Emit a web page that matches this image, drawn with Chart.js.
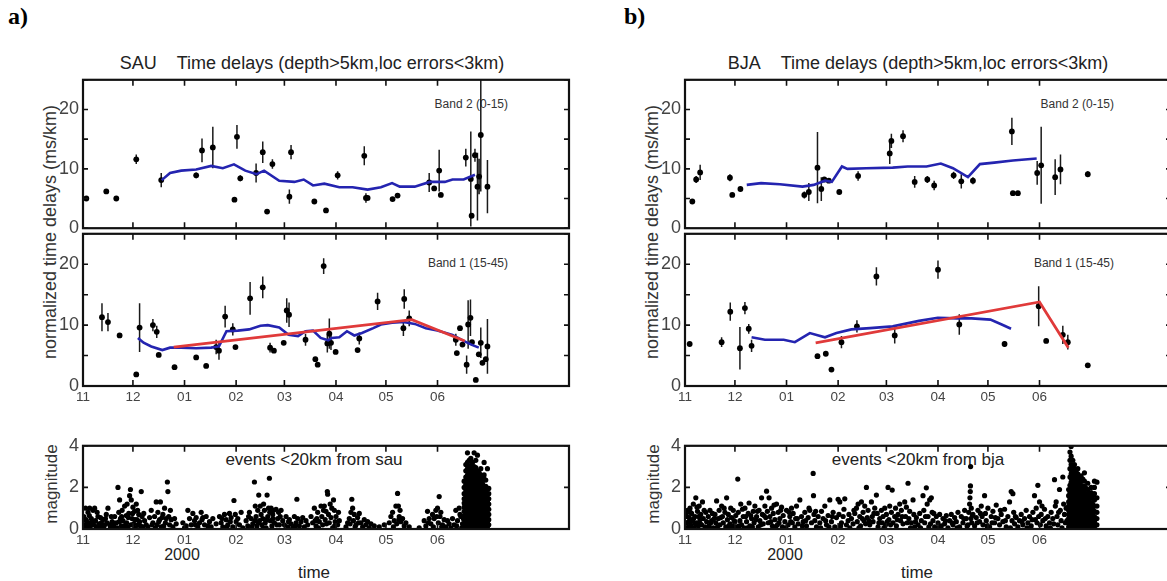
<!DOCTYPE html>
<html lang="en">
<head>
<meta charset="UTF-8">
<title>Time delays SAU / BJA</title>
<script src="https://cdn.jsdelivr.net/npm/chart.js@4.4.1/dist/chart.umd.min.js"></script>
<style>
  body { margin:0; width:1167px; height:581px; overflow:hidden; background:#fff; position:relative;
         font-family:'Liberation Sans', Arial, sans-serif; color:#222; }
  canvas { position:absolute; }
  .txt { position:absolute; white-space:nowrap; transform:translate(-50%,-50%); }
  .rt { transform:translate(-100%,-50%); }
  .vlab { transform:translate(-50%,-50%) rotate(-90deg); }
  .panel { position:absolute; font-family:'Liberation Serif', serif; font-weight:bold; font-size:24px; color:#000; }
</style>
</head>
<body>
<div class="panel" style="left:8px;top:3px">a)</div>
<div class="panel" style="left:624px;top:3px">b)</div>

<div class="txt" style="left:312px;top:63px;font-size:18px">SAU&nbsp;&nbsp;&nbsp;&nbsp;Time delays (depth&gt;5km,loc errors&lt;3km)</div>
<div class="txt" style="left:918px;top:63px;font-size:18px">BJA&nbsp;&nbsp;&nbsp;&nbsp;Time delays (depth&gt;5km,loc errors&lt;3km)</div>

<div class="txt vlab" style="left:50px;top:232px;font-size:18px;color:#333">normalized time delays (ms/km)</div>
<div class="txt vlab" style="left:652px;top:232px;font-size:18px;color:#333">normalized time delays (ms/km)</div>
<div class="txt vlab" style="left:52px;top:484px;font-size:17px;color:#333">magnitude</div>
<div class="txt vlab" style="left:654px;top:484px;font-size:17px;color:#333">magnitude</div>

<div class="txt rt" style="left:508px;top:104px;font-size:12px;color:#333">Band 2 (0-15)</div>
<div class="txt rt" style="left:508px;top:263px;font-size:12px;color:#333">Band 1 (15-45)</div>
<div class="txt rt" style="left:1114px;top:104px;font-size:12px;color:#333">Band 2 (0-15)</div>
<div class="txt rt" style="left:1114px;top:263px;font-size:12px;color:#333">Band 1 (15-45)</div>

<div class="txt" style="left:314px;top:460px;font-size:17px">events &lt;20km from sau</div>
<div class="txt" style="left:918px;top:460px;font-size:17px">events &lt;20km from bja</div>

<div class="txt" style="left:182px;top:555px;font-size:16px">2000</div>
<div class="txt" style="left:785px;top:555px;font-size:16px">2000</div>
<div class="txt" style="left:314px;top:573px;font-size:17px">time</div>
<div class="txt" style="left:917px;top:573px;font-size:17px">time</div>

<script>
// x axis: days since 1 Nov 1999
const monthDays = [0, 30, 61, 92, 121, 152, 182, 213];
const monthLabels = ['11', '12', '01', '02', '03', '04', '05', '06'];
const xMax = 292;

// ---- SAU, band 2 (0-15)
const sauB2Days = [2,14,20,32,47,68,71.5,78,91,92.5,94.5,104,108,110.6,113.8,124,125,139,146,153,169,170,171,186,189,208,211,214,215,230,233,233.5,235.5,237,238,239,243];
const sauB2Vals = [5.0,6.2,5.0,11.6,8.1,8.9,13.1,13.6,4.8,15.4,8.4,9.3,12.8,2.8,10.8,5.3,12.8,4.5,3.0,8.9,12.2,5.1,5.1,4.9,5.5,7.7,6.7,9.7,5.6,11.9,8.3,2.1,12.3,7.0,8.7,15.7,7.0];
const sauB2Errs = [0,0,0,0.8,1.2,0.5,2,3.5,0,2,0.5,1.6,1.8,0,0.8,1.2,1.2,0,0,0.7,1.6,0.8,0,0,0,1.6,0,3.5,0,1.5,8,0,1.1,5.7,3,9.5,4.5];
const sauB2AvgDays = [47.3,52.3,59,68,77,84,90.7,97.5,104.3,108.8,117.9,127,132.6,138.2,145,154,162,171,179,185.7,190.3,199.3,208.4,217.4,222,228.7,235.5];
const sauB2AvgVals = [8.1,9.3,9.7,9.9,10.5,10.1,10.75,9.7,9.1,9.7,8.0,7.8,8.2,7.2,7.5,6.9,6.9,6.5,6.9,7.6,7.0,7.0,7.8,7.8,8.2,8.2,9.0];

// ---- SAU, band 1 (15-45)
const sauB1Days = [11.4,15,22,32,34,42,44.3,45.5,55,68,74,80,81.7,85.4,90,91.6,100.4,108,112.4,114.7,120.6,122.4,123.8,133.7,139.6,141,144.6,146.8,148,149,151.8,165,166,177,192.5,193,196,224,224.6,226.5,228,230.5,231.4,232.8,233.7,236,237.8,239,240,242,243];
const sauB1Vals = [11.3,10.5,8.3,1.9,9.6,10.0,8.9,5.1,3.1,4.7,3.3,6.4,5.8,11.4,9.3,6.4,14.4,16.2,6.3,5.8,7.1,12.4,11.7,7.6,4.4,3.5,19.7,7.0,8.6,7.1,5.6,5.9,7.8,13.9,9.5,14.3,11.1,7.6,5.4,9.5,6.8,3.5,10.1,11.2,7.2,1.0,5.2,7.1,3.8,4.4,6.5];
const sauB1Errs = [2.3,1.5,0,0,4,1,1,0,0,0,0,1.2,1.5,1.8,1,0,2.7,1.8,0.8,0,0,2,2,1,0,0,1.3,1.5,2.5,1.2,0,0,1,1.4,1.3,1.6,1.3,1,0,0,0,1.5,4,3,0,0,0,2.5,0,0,4.5];
const sauB1AvgDays = [33,36.4,41,47.7,52.3,59,68,77,81.7,86.2,93,99.8,106.6,111,117.9,123.5,129.2,133.7,138.2,142.8,147.3,149.5,154,158.6,163,167.6,174.4,179,185.7,192.5,199.3,206,212.9,222,228.7,233.3,237.8];
const sauB1AvgVals = [7.9,7.1,6.5,5.9,6.3,6.3,6.2,6.3,6.5,9.0,9.1,9.3,9.9,10.0,9.6,8.4,8.2,9.0,9.1,7.9,7.5,7.9,8.0,9.0,8.3,8.7,9.5,10.1,10.4,10.5,10.2,9.5,9.1,8.4,7.4,6.8,6.3];
const sauTrendDays = [54.5, 197.6, 229.4];
const sauTrendVals = [6.4, 10.9, 7.4];

// ---- BJA, band 2 (0-15)
const bjaB2Days = [4.4,6.7,9.1,27,28.4,33.3,71.7,74.4,79.6,81.9,83.7,86.4,92.7,104,123,124,131,138,145.6,149.7,161.4,166,173,196.4,197,200,211.6,214,222.4,225.6,242];
const bjaB2Vals = [4.5,8.2,9.4,8.5,5.6,6.6,5.6,6.1,10.2,6.6,8.2,8.0,6.1,8.8,12.6,14.7,15.5,7.8,8.2,7.2,8.9,7.9,8.0,16.3,5.9,5.9,9.3,10.6,8.6,9.9,9.1];
const bjaB2Errs = [0,0.6,1.3,0.6,0,0,0.6,1.5,6,2,0,0,0,0.8,1.8,1.2,1,1,0.6,0.8,0.6,1.2,0.6,2.3,0,0,2,6.5,3,2.5,0.5];
const bjaB2AvgDays = [37.1,45.7,57,70.6,77.3,84.1,88.2,94.3,97.6,108.9,124.8,133.8,145.1,153.7,161,170,177.2,185.8,197,211.3];
const bjaB2AvgVals = [7.3,7.6,7.4,7.0,7.3,8.0,7.8,10.4,10.0,10.1,10.2,10.4,10.4,10.9,10.1,8.6,10.8,11.05,11.4,11.75];

// ---- BJA, band 1 (15-45)
const bjaB1Days = [2.8,22,27.2,33,36,38.3,40,79.6,84.6,88,94,103.3,115,126,152,164.8,192,212.5,217,227,230,242];
const bjaB1Vals = [6.9,7.2,12.2,6.2,12.8,9.4,6.6,4.9,5.3,2.7,7.2,9.8,18.0,8.3,19.1,10.1,6.9,13.1,7.4,8.4,7.2,3.4];
const bjaB1Errs = [0,0.8,1.5,3.5,1,0.8,1,0,0,0,1,1,1.5,1.3,1.5,1.7,0.5,3.3,0,1.5,1.2,0];
const bjaB1AvgDays = [40,48,59.3,66,75,84.1,91,100,111.2,124.8,140.6,151.9,163.2,172.2,183.5,190.3,195.9];
const bjaB1AvgVals = [8.0,7.6,7.6,7.2,8.7,8.0,8.7,9.3,9.5,9.8,10.7,11.2,11.1,11.1,10.9,10.1,9.4];
const bjaTrendDays = [78.5, 213, 230.3];
const bjaTrendVals = [7.1, 13.8, 6.3];

// ---- events <20km, [day, magnitude]
const sauEvents = [
[0.5,0.6],[1,0.2],[1.5,1.0],[2,0.4],[2.5,0.05],[3,0.8],[3.5,0.3],[4,1.0],[4.5,0.15],[5,0.5],[6,0.9],[6.5,0.2],[7,1.0],[7.5,0.4],[8,0.1],[9,0.6],[9.5,0.25],[10,0.05],[11,0.3],[12,0.45],[12.5,0.1],[13,0.2],[14,0.7],[14.5,0.3],[15,1.0],[16,0.2],[16.5,0.05],[17.5,0.35],[18.5,0.15],[19,0.6],
[20,0.3],[21,2.0],[21.5,0.8],[22,1.4],[22.5,0.5],[23,0.15],[23.5,0.9],[24,0.4],[25,1.1],[25.5,0.2],[26,0.65],[26.5,1.2],[27,0.1],[27.5,0.75],[28,1.6],[28.5,1.9],[29,1.4],[29.5,0.5],[30,1.05],[30.5,0.25],[31,0.85],[31.5,0.05],[32,1.2],[32.5,0.45],[33,0.2],[33.5,0.7],[34,0.35],[35,1.8],[35.5,0.6],[36,0.1],[37,0.4],[38,0.2],
[40,0.55],[41,0.9],[42,0.3],[43,0.6],[44,1.3],[44.5,0.2],[45,0.8],[46,0.45],[46.5,1.3],[47,0.1],[48,0.7],[49,1.0],[49.5,0.3],[50,0.5],[50.7,2.26],[51,1.8],[51.5,0.6],[52,0.2],[53,0.45],[54,0.1],[55,0.5],[56,0.25],
[60,0.3],[62,0.15],[63,0.9],[64,0.5],[65,0.2],[66,0.75],[67,0.4],[68,0.55],[69,0.1],[70,0.3],[71,0.8],[72,0.55],[73,0.2],[74,0.6],[76,0.35],[77,0.1],[78,0.5],[80,0.25],
[82,0.6],[83,0.3],[84,0.1],[85,0.7],[86,0.45],[87,0.2],[88,0.75],[89,0.55],[90,0.1],[90.7,1.37],[91.5,0.7],[92,0.35],[93,0.5],[94,0.2],[95,0.8],[96,0.05],
[98,0.4],[99,0.15],[100,0.8],[101,0.5],[102,0.25],[103,2.26],[103.5,1.1],[104,0.6],[104.5,0.15],[105,0.9],[105.6,1.63],[106,0.4],[106.5,1.1],[107,0.7],[107.5,0.2],[108,0.5],[108.5,1.2],[109,0.9],[109.5,0.3],[110,0.05],[110.6,1.63],[111,0.6],[111.5,1.0],[112,2.44],[112.5,0.4],[113,1.0],[113.5,0.15],[114,0.7],[114.5,0.9],[115,0.3],[116,0.95],[117,0.5],[117.5,0.8],[118,0.2],[119,0.9],[120,0.4],
[121,0.2],[122,0.6],[123,0.1],[124,0.45],[125,0.25],[126,0.05],[127,0.6],[128,0.3],[128.5,1.43],[129,0.5],[130,0.15],[131,0.35],[132,0.55],[133,0.1],[134,0.4],[135,0.2],
[137,0.6],[138,0.3],[139,1.0],[140,0.15],[140.5,0.5],[141,0.8],[142,0.35],[143,1.1],[143.5,0.6],[144,0.2],[145,1.1],[145.5,0.45],[146,0.85],[146.8,1.8],[147,1.67],[147.5,0.7],[148,0.3],[148.5,1.2],[149,0.55],[150,0.05],[150.5,1.4],[151,0.9],[151.5,0.35],[152,0.6],[153,0.2],[154,0.4],
[158,0.1],[159,0.3],[160,0.5],[161,0.8],[161.5,1.43],[162,1.0],[162.5,0.4],[163,0.7],[164,0.2],[165,0.55],[166,0.75],[167,0.3],[168,0.1],[169,0.45],[170,0.2],[171,0.35],[172,0.05],[173,0.25],[175,0.15],
[178,0.1],[181,0.2],[184,0.3],[185,0.6],[186,0.8],[187,0.4],[188,1.1],[188.5,0.25],[189,1.71],[189.5,1.1],[190,0.6],[191,0.35],[192,0.5],[193,0.15],[194,0.3],[196,0.1],
[202,0.05],[205,0.4],[206,0.15],[207,0.85],[208,0.5],[209,0.25],[210,0.7],[211,0.5],[212,0.9],[213,1.0],[213.5,0.3],[214,1.56],[214.5,0.6],[215,0.8],[216,0.2],[217,0.45],[218,0.1],[220,0.25],[221,0.05],[222,0.5],[223,0.2],[224,0.9],[225,0.4],[226,1.0],[227,0.6],[228,0.25],
[0.8,0.1],[1.8,0.45],[2.8,0.25],[3.8,0.65],[5.5,0.35],[8.5,0.8],[10.5,0.55],[11.5,0.1],[13.5,0.5],[17,0.6],[18,0.3],[20.5,0.05],[21.8,0.35],[23.2,0.6],[24.5,0.05],[26.2,0.3],[27.2,0.55],[28.8,0.2],[29.8,0.75],[31.2,0.45],[32.8,0.9],[34.5,0.15],[36.5,0.75],[39,0.1],[41.5,0.2],[43.5,0.05],[45.5,0.35],[47.5,0.55],[48.5,0.15],[52.5,0.9],[61,0.05],[67.5,0.2],[71.5,0.45],[75,0.15],[83.5,0.5],[86.5,0.1],[88.5,0.35],[99.5,0.6],[101.5,0.1],[103.2,0.4],[105.3,0.3],[108.2,0.05],[110.3,0.45],[112.2,0.8],[114.2,0.5],[116.5,0.2],[118.5,0.6],[123.5,0.35],[127.5,0.15],[139.5,0.4],[141.5,0.05],[144.5,0.9],[146.3,0.25],[149.5,1.0],[151.2,0.15],[153.5,0.8],[160.5,0.25],[163.5,0.1],[165.5,0.3],[186.5,0.1],[189.8,0.45],[190.5,0.9],[207.5,0.3],[210.5,0.1],[212.5,0.6],[215.5,0.1],[219,0.4],[224.5,0.15],[226.5,0.7],[227.5,0.05],[228.5,0.5]
];
// the swarm after the June event, read column by column
const sauSwarm = [
[229,[0.05,0.25,0.45,0.65,0.85,1.05,1.25,1.45,1.7,2.0,2.3]],
[230,[0.15,0.35,0.55,0.75,0.95,1.15,1.35,1.55,1.85,2.15,2.5,2.8,3.1]],
[231,[0.1,0.3,0.5,0.7,0.9,1.1,1.3,1.5,1.7,1.9,2.1,2.35,2.6,2.9,3.2,3.66]],
[232,[0.15,0.35,0.55,0.75,0.95,1.15,1.35,1.55,1.75,1.95,2.2,2.45,2.7,3.0,3.3]],
[233,[0.05,0.25,0.45,0.65,0.85,1.05,1.25,1.45,1.65,1.85,2.05,2.3,2.55,2.8,3.05,3.4]],
[234,[0.15,0.35,0.55,0.75,0.95,1.15,1.35,1.55,1.75,1.95,2.2,2.4,2.65,2.9,3.2]],
[235,[0.1,0.3,0.5,0.7,0.9,1.1,1.3,1.5,1.7,1.9,2.1,2.3,2.5,2.75,3.0,3.66]],
[236,[0.15,0.35,0.55,0.75,0.95,1.15,1.35,1.55,1.75,1.95,2.15,2.4,2.65,2.95,3.3]],
[237,[0.05,0.25,0.45,0.65,0.85,1.05,1.25,1.45,1.65,1.85,2.05,2.25,2.5,2.8,3.55]],
[238,[0.15,0.35,0.55,0.75,0.95,1.15,1.35,1.55,1.75,1.95,2.15,2.4,2.7]],
[239,[0.1,0.3,0.5,0.7,0.9,1.1,1.3,1.5,1.7,1.9,2.1,2.3,2.6,2.9]],
[240,[0.15,0.35,0.55,0.75,0.95,1.15,1.35,1.55,1.75,1.95,2.2,2.45]],
[241,[0.05,0.25,0.45,0.65,0.85,1.05,1.25,1.45,1.65,1.85,2.05,2.4,2.6,3.2]],
[242,[0.15,0.35,0.55,0.75,0.95,1.15,1.35,1.55,1.75,2.05,2.35]],
[243,[0.1,0.3,0.5,0.7,0.9,1.1,1.3,1.5,1.7,1.95,2.9]],
[243.8,[0.2,0.45,0.7,0.95,1.2,1.45,1.7,1.95]]
];

const bjaEvents = [
[0.5,0.7],[1,0.3],[1.5,0.9],[2,0.1],[2.5,0.55],[3,1.0],[3.5,0.2],[4,0.75],[4.5,0.4],[5,1.2],[5.5,0.05],[6,0.6],[6.5,1.5],[7,0.3],[7.5,0.85],[8,0.15],[8.5,1.1],[9,0.45],[9.5,0.7],[10,0.2],[10.5,1.3],[11,0.5],[12,0.1],[12.5,0.8],[13,0.35],[14,0.6],[14.5,0.15],[15,0.9],[16,0.4],[17,0.05],[18,0.7],[18.5,0.3],[19,1.35],[20,0.5],[20.5,0.9],[21,0.2],[22,1.1],[22.5,0.6],[23,0.3],[24,0.8],[24.5,0.1],[25,1.5],[25.5,0.45],[26,0.7],[27,0.25],[27.5,1.0],[28,0.55],[28.5,0.15],[29,0.9],[30,0.35],[30.5,0.65],[31,0.1],[31.7,2.4],[32,0.8],[33,0.4],[33.5,1.2],[34,0.2],[35,0.6],[35.5,0.05],[36,1.0],[37,0.35],[38,0.75],[38.5,1.25],[39,0.15],[40,0.5],[41,0.85],[41.5,0.3],[42,1.1],[43,0.6],[44,0.1],[44.5,0.9],[45,0.4],[46,1.5],[46.5,0.7],[47,0.25],[48,1.1],[48.5,0.55],[49,1.82],[49.5,0.85],[50,0.3],[50.5,1.5],[51,0.6],[52,1.0],[52.5,0.15],[53,0.75],[54,0.45],[55,1.2],[55.5,0.2],[56,0.8],[57,0.5],[58,1.05],[58.5,0.1],[59,0.65],[60,0.35],[61,0.9],[62,0.2],[63,0.6],[64,1.0],[64.5,0.3],[65,0.75],[66,0.1],[67,1.1],[67.5,0.5],[68,0.25],[69,1.4],[70,0.6],[71,0.35],[72,0.8],[73,0.15],[74,0.55],[75,0.9],[76,0.3],[77,2.67],[77.2,1.6],[77.5,0.7],[78,0.4],[79,0.1],[80,0.6],[81,0.3],[82,0.85],[83,0.5],[84,1.1],[85,0.2],[86,0.65],[87,1.4],[88,0.35],[89,0.8],[90,0.1],[91,0.55],[92,1.43],[92.5,0.7],[93,1.3],[94,0.3],[95,0.6],[96,1.45],[97,0.2],[98,0.4],[99,0.05],
[100,0.5],[101,0.25],[102,0.75],[103,1.0],[103.5,0.35],[104,1.2],[105,0.6],[105.5,0.15],[106,1.3],[107,0.8],[107.5,0.4],[108,1.1],[109,2.0],[109.5,0.55],[110,0.9],[111,0.2],[112,1.3],[112.5,0.6],[113,0.35],[114,1.0],[115,1.63],[115.5,0.75],[116,0.1],[117,0.5],[118,0.9],[118.5,0.3],[119,0.6],[120,1.0],[120.5,0.2],[121,0.7],[122,2.0],[122.5,0.45],[123,1.1],[124,0.8],[124.5,1.87],[125,0.3],[126,0.6],[126.5,1.0],[127,0.15],[128,0.7],[129,1.2],[129.5,0.4],[130,0.9],[131,0.25],[132,1.3],[132.5,0.6],[133,1.05],[134,2.2],[134.5,0.5],[135,0.85],[136,0.3],[137,1.4],[137.5,0.7],[138,0.1],[139,0.55],[140,0.2],[141,0.75],[142,0.4],[143,1.6],[143.5,0.9],[144,0.3],[145,1.98],[145.5,1.2],[146,0.6],[147,1.4],[147.5,0.25],[148,1.5],[148.5,0.8],[149,0.4],[150,0.1],[151,0.6],[152,0.3],[153,0.7],[154,0.15],[155,0.5],[156,0.25],[157,0.65],[158,0.05],[159,0.4],[160,0.7],[161,0.2],[162,0.55],[163,0.35],[164,0.8],[165,0.1],[166,0.6],[167,0.3],[168,0.9],[169,0.5],[170,0.2],[170.5,0.8],[171,1.2],[171.2,1.5],[171.4,1.8],[171.5,2.07],[171.6,3.0],[171.8,0.5],[172,1.0],[172.3,0.3],[173,0.7],[174,0.15],[175,0.55],[176,0.9],[177,0.35],[178,1.1],[178.5,0.6],[179,0.2],[180,1.6],[180.5,0.75],[181,0.4],[182,1.0],[183,0.1],[184,0.6],[185,0.85],[186,0.3],[187,1.15],[188,0.5],[189,0.2],[190,0.7],[191,0.35],[192,0.95],[193,0.1],[194,0.6],[195,1.3],[196,1.8],[196.5,0.4],[197,1.7],[197.5,0.8],[198,0.25],[199,0.55],[200,0.1],[201,0.4],[202,0.7],[203,0.2],[204,0.5],[205,0.9],[206,0.3],[207,0.6],[208,0.15],[209,0.8],[210,1.6],[210.5,0.45],[211,1.0],[212,2.1],[212.5,0.6],[213,1.3],[213.5,0.2],[214,0.7],[215,0.4],[216,0.95],[217,0.15],[218,0.6],[219,0.3],[220,0.8],[221,0.5],[222,2.37],[222.5,1.1],[223,1.3],[223.5,0.6],[224,0.2],[225,1.9],[225.5,0.9],[226,0.4],[227,2.5],[227.5,1.2],[228,0.7],[228.5,0.3],[229,1.0],
[1.2,0.6],[2.2,0.35],[3.2,0.8],[4.2,0.05],[5.2,0.5],[6.2,0.25],[7.2,1.05],[8.2,0.6],[9.2,0.25],[11.5,0.9],[13.5,0.05],[15.5,0.3],[16.5,0.75],[17.5,0.5],[19.5,0.1],[21.5,0.55],[23.5,1.0],[26.5,0.15],[29.5,0.4],[32.5,0.15],[34.5,0.95],[36.5,0.6],[37.5,0.05],[39.5,0.65],[40.5,0.1],[42.5,0.45],[43.5,0.85],[45.5,0.2],[47.5,0.65],[51.5,0.35],[53.5,1.15],[54.5,0.1],[56.5,0.3],[57.5,0.9],[60.5,0.05],[62.5,0.8],[63.5,0.35],[66.5,0.5],[70.5,0.15],[72.5,0.4],[74.5,1.0],[78.5,0.85],[81.5,0.05],[84.5,0.4],[86.5,0.1],[88.5,0.6],[93.5,0.15],[95.5,0.95],[98.5,0.7],[101.5,0.9],[104.5,0.05],[106.5,0.5],[108.5,0.25],[110.5,0.4],[113.5,0.75],[116.5,0.3],[119.5,0.05],[121.5,0.35],[123.5,0.2],[127.5,0.45],[130.5,0.6],[133.5,0.3],[135.5,0.05],[138.5,0.35],[141.5,0.05],[144.5,0.6],[146.5,0.1],[149.5,0.75],[152.5,0.05],[156.5,0.4],[160.5,0.3],[163.5,0.05],[167.5,0.5],[169.5,0.15],[172.7,0.65],[175.5,0.3],[177.5,0.75],[181.5,0.15],[184.5,0.3],[186.5,0.55],[189.5,0.9],[192.5,0.4],[195.5,0.05],[198.5,0.6],[202.5,0.35],[205.5,0.05],[208.5,0.45],[211.5,0.3],[214.5,1.1],[216.5,0.5],[219.5,0.05],[221.5,0.25],[224.5,0.8],[226.5,0.05],[229.5,0.4]
];
const bjaSwarm = [
[230.5,[0.1,0.3,0.5,0.7,0.9,1.1,1.3,1.6,1.9]],
[231.3,[0.2,0.4,0.6,0.8,1.0,1.2,1.45,1.75,2.1,2.5,2.9,3.3,3.7]],
[232,[0.05,0.25,0.45,0.65,0.85,1.05,1.25,1.45,1.65,1.85,2.05,2.25,2.45,2.65,2.85,3.1,3.5,3.97]],
[233,[0.15,0.35,0.55,0.75,0.95,1.15,1.35,1.55,1.75,1.95,2.15,2.35,2.55,2.75,3.0,3.3]],
[234,[0.1,0.3,0.5,0.7,0.9,1.1,1.3,1.5,1.7,1.9,2.1,2.3,2.5,2.7,2.9,3.1]],
[235,[0.15,0.35,0.55,0.75,0.95,1.15,1.35,1.55,1.75,1.95,2.15,2.35,2.6,2.8]],
[236,[0.05,0.25,0.45,0.65,0.85,1.05,1.25,1.45,1.65,1.85,2.05,2.25,2.45,2.65,2.9]],
[237,[0.15,0.35,0.55,0.75,0.95,1.15,1.35,1.55,1.75,1.95,2.2,2.45]],
[238,[0.1,0.3,0.5,0.7,0.9,1.1,1.3,1.5,1.7,1.9,2.1,2.3,2.55]],
[239,[0.15,0.35,0.55,0.75,0.95,1.15,1.35,1.55,1.75,2.0,2.4]],
[240,[0.05,0.25,0.45,0.65,0.85,1.05,1.25,1.45,1.65,1.85,2.05,2.3,2.7]],
[241,[0.15,0.35,0.55,0.75,0.95,1.15,1.4,1.65,1.95]],
[242,[0.1,0.3,0.5,0.7,0.9,1.1,1.3,1.5,1.7,1.9,2.2]],
[243,[0.2,0.45,0.7,0.95,1.15,1.4,1.65]],
[244,[0.05,0.3,0.55,0.8,1.0,1.25,1.5,1.75,2.0]],
[245,[0.2,0.45,0.7,0.95,1.2,1.6]],
[246,[0.1,0.35,0.6,0.85,1.1,1.4,1.7,2.0,2.3]],
[247.5,[0.2,0.5,0.8,1.1,1.5,2.25]]
];

Chart.defaults.font.family = "'Liberation Sans', Arial, sans-serif";
Chart.defaults.color = '#333';

const BLUE = '#2424b0';
const RED = '#e03a3a';

// matlab style box with inward ticks on all four sides
const frame = {
    id: 'frame',
    afterDraw(chart) {
        const { ctx, chartArea: a, scales: { x, y } } = chart;
        ctx.save();
        ctx.strokeStyle = '#111';
        ctx.lineWidth = 1.6;
        ctx.beginPath();
        y.ticks.forEach(t => {
            const py = y.getPixelForValue(t.value);
            ctx.moveTo(a.left, py); ctx.lineTo(a.left + 5, py);
            ctx.moveTo(a.right, py); ctx.lineTo(a.right - 5, py);
        });
        x.ticks.forEach(t => {
            const px = x.getPixelForValue(t.value);
            ctx.moveTo(px, a.top); ctx.lineTo(px, a.top + 6);
            ctx.moveTo(px, a.bottom); ctx.lineTo(px, a.bottom - 6);
        });
        ctx.stroke();
        ctx.lineWidth = 2.2;
        ctx.strokeRect(a.left, a.top, a.width, a.height);
        ctx.restore();
    }
};

function pts(days, vals) {
    return days.map((d, i) => ({ x: d, y: vals[i] }));
}

function errBars(days, vals, errs) {
    const out = [];
    days.forEach((d, i) => {
        if (errs[i] > 0) {
            out.push({ x: d, y: vals[i] - errs[i] }, { x: d, y: vals[i] + errs[i] }, { x: d, y: null });
        }
    });
    return out;
}

function eventPts(list, swarm) {
    const out = list.map(e => ({ x: e[0], y: e[1] }));
    swarm.forEach(col => col[1].forEach(m => out.push({ x: col[0], y: m })));
    return out;
}

function delaySets(days, vals, errs, avgDays, avgVals, trendDays, trendVals) {
    const sets = [];
    if (trendDays) {
        sets.push({ data: pts(trendDays, trendVals), showLine: true, borderColor: RED, borderWidth: 2.8, pointRadius: 0 });
    }
    sets.push({ data: pts(avgDays, avgVals), showLine: true, borderColor: BLUE, borderWidth: 2.6, pointRadius: 0 });
    sets.push({ data: pts(days, vals), pointRadius: 2.9, pointBackgroundColor: '#000', pointBorderWidth: 0 });
    sets.push({ data: errBars(days, vals, errs), showLine: true, spanGaps: false, borderColor: '#1a1a1a', borderWidth: 1.5, pointRadius: 0 });
    return sets;
}

const AXW = 45, PADT = 12, PADR = 10;

function makePlot(box, labeled, yMax, yStep, labelEvery, labelMax, datasets) {
    const cv = document.createElement('canvas');
    const w = box.w + AXW + PADR;
    const h = box.h + PADT + (labeled ? 22 : 12);
    cv.width = w; cv.height = h;
    cv.style.left = (box.l - AXW) + 'px';
    cv.style.top = (box.t - PADT) + 'px';
    document.body.appendChild(cv);
    new Chart(cv, {
        type: 'scatter',
        data: { datasets },
        plugins: [frame],
        options: {
            responsive: false,
            animation: false,
            layout: { padding: { top: PADT, right: PADR, bottom: labeled ? 0 : 12, left: 0 } },
            plugins: { legend: { display: false }, tooltip: { enabled: false } },
            scales: {
                x: {
                    type: 'linear', min: 0, max: xMax,
                    grid: { display: false, drawTicks: false },
                    border: { display: false },
                    afterBuildTicks: s => { s.ticks = monthDays.map(v => ({ value: v })); },
                    afterFit: s => { s.height = labeled ? 22 : 0; },
                    ticks: {
                        display: labeled, autoSkip: false, maxRotation: 0, padding: 3,
                        color: '#444', font: { size: 13.5 },
                        callback: v => monthLabels[monthDays.indexOf(v)]
                    }
                },
                y: {
                    min: 0, max: yMax,
                    grid: { display: false, drawTicks: false },
                    border: { display: false },
                    afterFit: s => { s.width = AXW; },
                    ticks: {
                        stepSize: yStep, padding: 4, color: '#444', font: { size: 18 },
                        callback: v => (v % labelEvery === 0 && v <= labelMax) ? v : ''
                    }
                }
            }
        }
    });
}

const W = 486;
const boxes = {
    top: { t: 77, h: 154 },
    mid: { t: 231, h: 155 },
    bot: { t: 443, h: 86 }
};
const panels = [
    { l: 83,
      b2: [sauB2Days, sauB2Vals, sauB2Errs, sauB2AvgDays, sauB2AvgVals],
      b1: [sauB1Days, sauB1Vals, sauB1Errs, sauB1AvgDays, sauB1AvgVals, sauTrendDays, sauTrendVals],
      ev: [sauEvents, sauSwarm] },
    { l: 685,
      b2: [bjaB2Days, bjaB2Vals, bjaB2Errs, bjaB2AvgDays, bjaB2AvgVals],
      b1: [bjaB1Days, bjaB1Vals, bjaB1Errs, bjaB1AvgDays, bjaB1AvgVals, bjaTrendDays, bjaTrendVals],
      ev: [bjaEvents, bjaSwarm] }
];

panels.forEach(p => {
    makePlot({ l: p.l, w: W, ...boxes.top }, false, 25, 5, 10, 20, delaySets(...p.b2));
    makePlot({ l: p.l, w: W, ...boxes.mid }, true, 25, 5, 10, 20, delaySets(...p.b1));
    makePlot({ l: p.l, w: W, ...boxes.bot }, true, 4, 1, 2, 4, [
        { data: eventPts(p.ev[0], p.ev[1]), pointRadius: 2.6, pointBackgroundColor: '#000', pointBorderWidth: 0 }
    ]);
});
</script>
</body>
</html>
